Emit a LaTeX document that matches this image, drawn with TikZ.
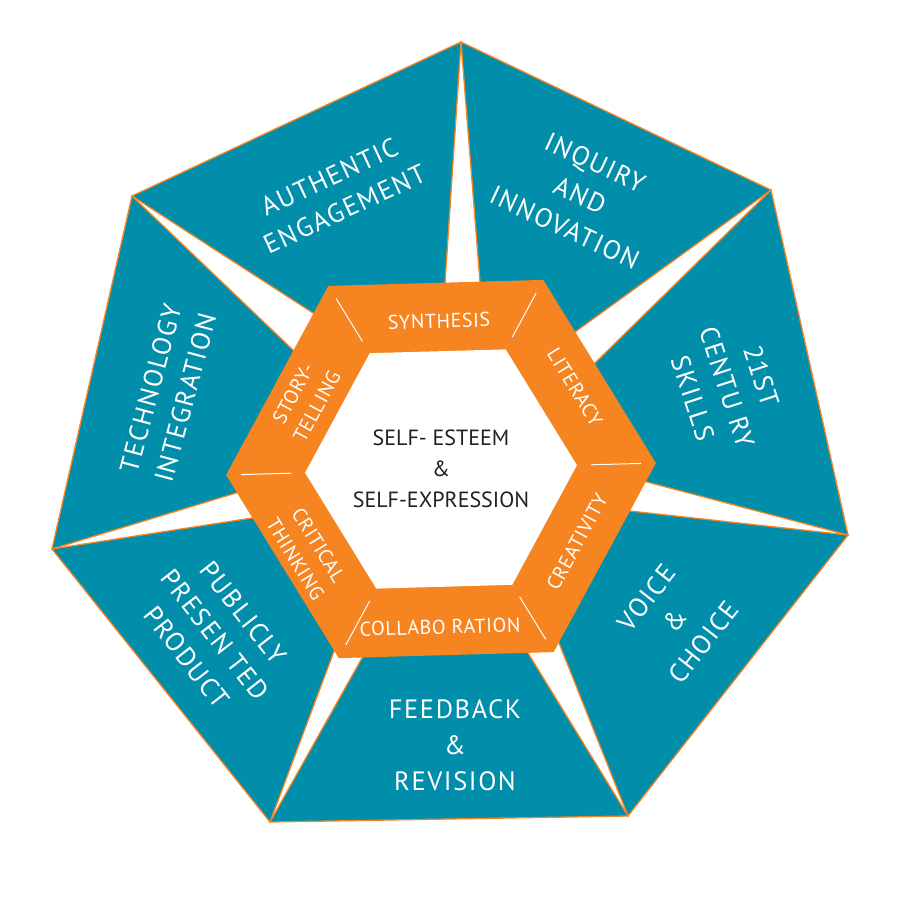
\documentclass[tikz,border=0pt]{standalone}
\usepackage{fontspec}
\setmainfont{PT Sans}
\newfontfamily\widefont[LetterSpace=6]{PT Sans}
\newfontfamily\ringfont[LetterSpace=3]{PT Sans}
\usetikzlibrary{calc}
\definecolor{petrol}{RGB}{0,142,170}
\definecolor{tangerine}{RGB}{245,132,33}
\definecolor{ink}{RGB}{35,31,32}
\begin{document}
\begin{tikzpicture}[x=1pt, y=-1pt,
        slab/.style={fill=petrol, draw=tangerine, line width=1.3pt, line join=miter},
        outer/.style={text=white, align=center, inner sep=0pt, font=\widefont\fontsize{26.5}{36}\selectfont},
        band/.style={text=white, align=center, inner sep=0pt, font=\ringfont\fontsize{20}{27}\selectfont},
        core/.style={text=ink, align=center, inner sep=0pt, font=\fontsize{22}{31}\selectfont}
    ]
        \useasboundingbox (0,0) rectangle (900,921);

        % Heptagon corners
        \coordinate (p1) at (461,42);
        \coordinate (p2) at (771,190);
        \coordinate (p3) at (848,535);
        \coordinate (p4) at (628,816);
        \coordinate (p5) at (270,822);
        \coordinate (p6) at (52,549);
        \coordinate (p7) at (132,196);
        \coordinate (c) at (441,469);

        % Where the gaps meet the hexagon
        \coordinate (q1a) at (445,283);
        \coordinate (q1b) at (480,282);
        \coordinate (q2a) at (575,332);
        \coordinate (q2b) at (595,363);
        \coordinate (q3a) at (647,482);
        \coordinate (q3b) at (630,511);
        \coordinate (q4a) at (559,643);
        \coordinate (q4b) at (528,653);
        \coordinate (q5a) at (362,658);
        \coordinate (q5b) at (333,654);
        \coordinate (q6a) at (252,518);
        \coordinate (q6b) at (236,493);
        \coordinate (q7a) at (313,313);
        \coordinate (q7b) at (293,350);

        % Outer pieces
        \foreach \i/\j/\a/\b in {7/1/1a/7a, 1/2/2a/1b, 2/3/3a/2b, 3/4/4a/3b, 4/5/5a/4b, 5/6/6a/5b, 6/7/7b/6b}
            \draw[slab] (p\i) -- (p\j) -- ($(p\j)!1.15!(q\a)$) -- (c) -- ($(p\i)!1.15!(q\b)$) -- cycle;

        % Hexagon ring
        \fill[tangerine, shift={(c)}] (-1.6:215) -- (-61.6:215) -- (-121.6:215) -- (-181.6:215) -- (-241.6:215) -- (-301.6:215) -- cycle;
        \fill[white, shift={(c)}] (-1.6:136) -- (-61.6:136) -- (-121.6:136) -- (-181.6:136) -- (-241.6:136) -- (-301.6:136) -- cycle;
        \foreach \a in {-1.6,-61.6,-121.6,-181.6,-241.6,-301.6}
            \draw[white, line width=1pt, shift={(c)}] (\a:150) -- (\a:200);

        % Outer labels
        \node[outer, rotate=25] (authentic) at (337,193) {AUTHENTIC\\ENGAGEMENT};
        \node[outer, rotate=-25] (inquiry) at (580,195) {INQUIRY\\AND\\INNOVATION};
        \node[outer, rotate=-72] (century) at (727,387) {21ST\\CENTU RY\\SKILLS};
        \node[outer, rotate=52] (voice) at (675,620) {VOICE\\\&\\CHOICE};
        \node[outer] (feedback) at (455,745) {FEEDBACK\\\&\\REVISION};
        \node[outer, rotate=-52] (publicly) at (215,635) {PUBLICLY\\PRESEN TED\\PRODUCT};
        \node[outer, rotate=75] (technology) at (168,393) {TECHNOLOGY\\INTEGRATION};

        % Ring labels
        \node[band, rotate=1.6] (synthesis) at (439,321) {SYNTHESIS};
        \node[band, rotate=-58.4] (literacy) at (575,387) {LITERACY};
        \node[band, rotate=61.6] (creativity) at (577,542) {CREATIVITY};
        \node[band, rotate=1.6] (collab) at (440,627) {COLLABO RATION};
        \node[band, rotate=-58.4] (critical) at (307,552) {CRITICAL\\THINKING};
        \node[band, rotate=61.6] (story) at (305,400) {STORY-\\TELLING};

        % Centre
        \node[core] (self) at (441,469) {SELF- ESTEEM\\\&\\SELF-EXPRESSION};
    \end{tikzpicture}
\end{document}
